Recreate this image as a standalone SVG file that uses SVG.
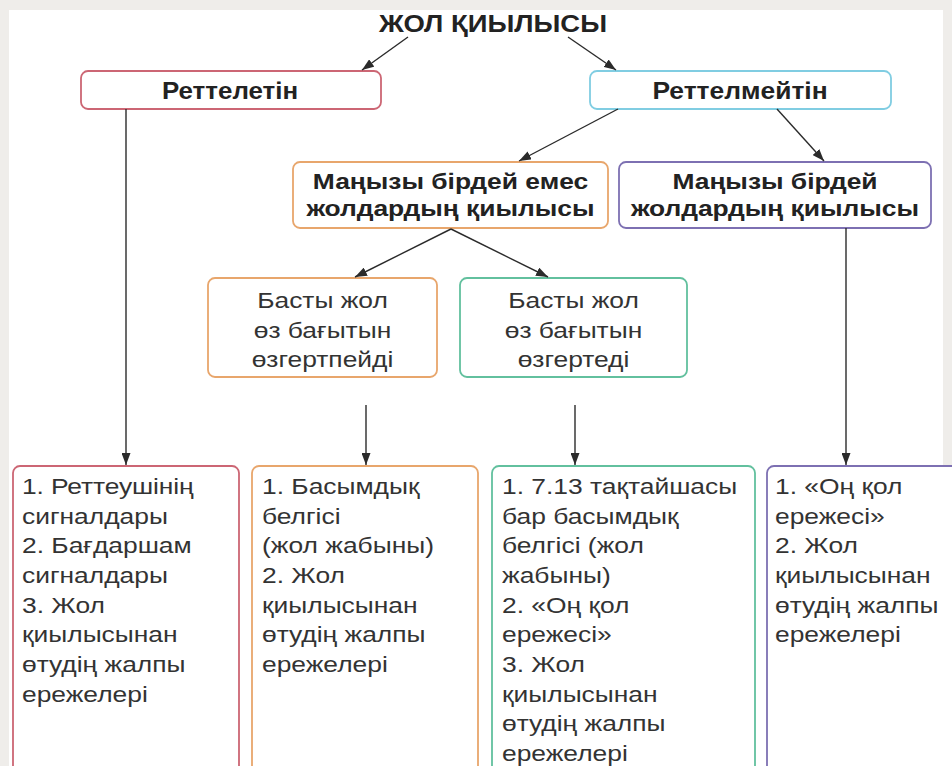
<svg xmlns="http://www.w3.org/2000/svg" width="952" height="766" viewBox="0 0 952 766">
<defs>
<marker id="ah" markerUnits="userSpaceOnUse" markerWidth="12" markerHeight="9" refX="12" refY="4.5" orient="auto">
<path d="M0,0 L12,4.5 L0,9 z" fill="#2b2b2b"/>
</marker>
<style>
.bx{fill:#fff;stroke-width:1.8}
.hd{font-family:"Liberation Sans",Arial,sans-serif;font-weight:bold;font-size:22px;fill:#222;text-anchor:middle}
.md{font-family:"Liberation Sans",Arial,sans-serif;font-size:22px;fill:#333;text-anchor:middle}
.ls{font-family:"Liberation Sans",Arial,sans-serif;font-size:22px;fill:#333}
.cn{stroke:#2b2b2b;stroke-width:1.4;fill:none;marker-end:url(#ah)}
</style>
</defs>
<rect x="0" y="0" width="952" height="766" fill="#efedea"/>
<rect x="9" y="10" width="934" height="760" fill="#fff"/>

<g id="title">
<text x="493" y="32" class="hd" style="font-size:24px" textLength="228" lengthAdjust="spacingAndGlyphs">ЖОЛ ҚИЫЛЫСЫ</text>
</g>

<g id="regulated">
<rect x="81" y="71" width="300" height="38" rx="7" class="bx" stroke="#cc6674"/>
<text transform="translate(230,0) scale(1.08,1)" x="0" y="99" class="hd" style="font-size:24px">Реттелетін</text>
</g>

<g id="unregulated">
<rect x="590" y="71" width="301" height="38" rx="7" class="bx" stroke="#80cde2"/>
<text transform="translate(740,0) scale(1.1,1)" x="0" y="99" class="hd" style="font-size:24px">Реттелмейтін</text>
</g>

<g id="unequal">
<rect x="293" y="162" width="315" height="66" rx="7" class="bx" stroke="#e8a66c"/>
<text transform="translate(450.5,0) scale(1.2,1)" class="hd"><tspan x="0" y="189">Маңызы бірдей емес</tspan><tspan x="0" y="216">жолдардың қиылысы</tspan></text>
</g>

<g id="equal">
<rect x="619" y="162" width="312" height="66" rx="7" class="bx" stroke="#7d70b2"/>
<text transform="translate(775,0) scale(1.2,1)" class="hd"><tspan x="0" y="189">Маңызы бірдей</tspan><tspan x="0" y="216">жолдардың қиылысы</tspan></text>
</g>

<g id="main-straight">
<rect x="208" y="278" width="229" height="99" rx="7" class="bx" stroke="#e8a66c"/>
<text transform="translate(322.5,0) scale(1.2,1)" class="md"><tspan x="0" y="308">Басты жол</tspan><tspan x="0" y="338">өз бағытын</tspan><tspan x="0" y="367">өзгертпейді</tspan></text>
</g>

<g id="main-turns">
<rect x="460" y="278" width="227" height="99" rx="7" class="bx" stroke="#62c09e"/>
<text transform="translate(573.5,0) scale(1.2,1)" class="md"><tspan x="0" y="308">Басты жол</tspan><tspan x="0" y="338">өз бағытын</tspan><tspan x="0" y="367">өзгертеді</tspan></text>
</g>

<g id="rules-regulated">
<rect x="13" y="466" width="226" height="340" rx="7" class="bx" stroke="#cc6674"/>
<text class="ls" transform="translate(22,0) scale(1.2,1)">
<tspan x="0" y="494" textLength="143">1. Реттеушінің</tspan>
<tspan x="0" y="524">сигналдары</tspan>
<tspan x="0" y="553">2. Бағдаршам</tspan>
<tspan x="0" y="583">сигналдары</tspan>
<tspan x="0" y="613">3. Жол</tspan>
<tspan x="0" y="642">қиылысынан</tspan>
<tspan x="0" y="672">өтудің жалпы</tspan>
<tspan x="0" y="702">ережелері</tspan>
</text>
</g>

<g id="rules-straight">
<rect x="252" y="466" width="226" height="340" rx="7" class="bx" stroke="#e8a66c"/>
<text class="ls" transform="translate(262,0) scale(1.2,1)">
<tspan x="0" y="494">1. Басымдық</tspan>
<tspan x="0" y="524">белгісі</tspan>
<tspan x="0" y="553">(жол жабыны)</tspan>
<tspan x="0" y="583">2. Жол</tspan>
<tspan x="0" y="613">қиылысынан</tspan>
<tspan x="0" y="642">өтудің жалпы</tspan>
<tspan x="0" y="672">ережелері</tspan>
</text>
</g>

<g id="rules-turns">
<rect x="492" y="466" width="263" height="340" rx="7" class="bx" stroke="#62c09e"/>
<text class="ls" transform="translate(502,0) scale(1.2,1)">
<tspan x="0" y="494">1. 7.13 тақтайшасы</tspan>
<tspan x="0" y="524">бар басымдық</tspan>
<tspan x="0" y="553">белгісі (жол</tspan>
<tspan x="0" y="583">жабыны)</tspan>
<tspan x="0" y="613">2. «Оң қол</tspan>
<tspan x="0" y="642">ережесі»</tspan>
<tspan x="0" y="672">3. Жол</tspan>
<tspan x="0" y="702">қиылысынан</tspan>
<tspan x="0" y="731">өтудің жалпы</tspan>
<tspan x="0" y="761">ережелері</tspan>
</text>
</g>

<g id="rules-equal">
<rect x="767" y="466" width="200" height="340" rx="7" class="bx" stroke="#7d70b2"/>
<text class="ls" transform="translate(775,0) scale(1.2,1)">
<tspan x="0" y="494">1. «Оң қол</tspan>
<tspan x="0" y="524">ережесі»</tspan>
<tspan x="0" y="553">2. Жол</tspan>
<tspan x="0" y="583">қиылысынан</tspan>
<tspan x="0" y="613">өтудің жалпы</tspan>
<tspan x="0" y="642">ережелері</tspan>
</text>
</g>

<g id="connectors">
<line class="cn" x1="408" y1="37" x2="362" y2="70"/>
<line class="cn" x1="568" y1="37" x2="616" y2="70"/>
<line class="cn" x1="618" y1="109" x2="519" y2="161"/>
<line class="cn" x1="777" y1="109" x2="824" y2="161"/>
<line class="cn" x1="451" y1="229" x2="355" y2="277"/>
<line class="cn" x1="451" y1="229" x2="548" y2="277"/>
<line class="cn" x1="126" y1="109" x2="126" y2="465"/>
<line class="cn" x1="366" y1="405" x2="366" y2="465"/>
<line class="cn" x1="575" y1="405" x2="575" y2="465"/>
<line class="cn" x1="846" y1="228" x2="846" y2="465"/>
</g>
</svg>
